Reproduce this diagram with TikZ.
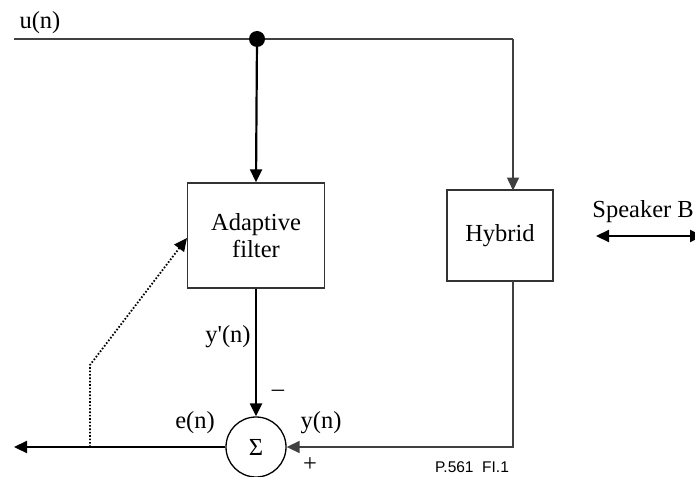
\documentclass[tikz,border=0pt]{standalone}
\usepackage{fontspec}
\setmainfont{Liberation Serif}
\newfontfamily\labsans{Liberation Sans}
\usetikzlibrary{arrows.meta}
\begin{document}
\begin{tikzpicture}[x=1pt,y=-1pt,
  font=\fontsize{24.5}{27.5}\selectfont,
  wire/.style={line width=2.2pt, black},
  gwire/.style={line width=1.6pt, black!75},
  arr/.style={-{Triangle[length=13pt,width=12pt]}},
  darr/.style={{Triangle[length=13pt,width=12pt]}-{Triangle[length=13pt,width=12pt]}},
  blk/.style={draw, line width=1.3pt, black!80, text=black, inner sep=0pt, align=center},
  lab/.style={inner sep=0pt}]
\useasboundingbox (0,0) rectangle (695,476);
\node[blk, minimum width=137pt, minimum height=105pt] (af) at (256,235.5) {Adaptive\\filter};
\node[blk, minimum width=106pt, minimum height=91pt] (hy) at (500,235.5) {Hybrid};
\node[circle, draw, line width=1.3pt, minimum size=60pt, inner sep=0pt] (sum) at (256,447) {Σ};
\node[circle, fill=black, minimum size=16pt, inner sep=0pt] (dot) at (257,39) {};
\coordinate (start) at (14,39);
\coordinate (corner) at (513,39);
\coordinate (hin) at (513,190.5);
\coordinate (hout) at (513,281);
\coordinate (c2) at (513,447);
\coordinate (out) at (14,447);
\coordinate (d0) at (90,447);
\coordinate (d1) at (90,365);
\coordinate (d2) at (187,238);
\coordinate (sb1) at (596,236);
\coordinate (sb2) at (703,236);
% wires
\draw[gwire] (start) -- (dot);
\draw[gwire] (dot) -- (corner);
\draw[gwire, arr] (corner) -- (hin);
\draw[wire, arr] (dot) -- (af.north);
\draw[wire, arr] (af.south) -- (sum.north);
\draw[gwire, arr] (hout) -- (c2) -- (sum.east);
\draw[wire, arr] (sum.west) -- (out);
\draw[line width=1.8pt, dash pattern=on 1.6pt off 1.8pt, arr] (d0) -- (d1) -- (d2);
\draw[wire, darr] (sb1) -- (sb2);
% labels
\node[lab] (un) at (40,23) {u(n)};
\node[lab] (yp) at (228,337) {y\textquotesingle(n)};
\node[lab] (minus) at (278,393) {–};
\node[lab] (en) at (195,423) {e(n)};
\node[lab] (yn) at (321,423) {y(n)};
\node[lab] (plus) at (310,465) {+};
\node[lab, font=\labsans\fontsize{15.5}{18}\selectfont] (fig) at (472,467) {P.561\ \ FI.1};
\node[lab, anchor=east] (spk) at (694,212) {Speaker B};
\end{tikzpicture}
\end{document}
